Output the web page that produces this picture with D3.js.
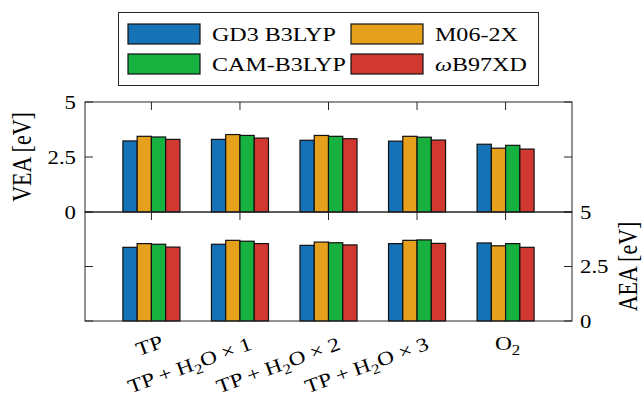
<!DOCTYPE html>
<html>
<head>
<meta charset="utf-8">
<script src="https://cdn.jsdelivr.net/npm/d3@7"></script>
<style>
  html, body { margin: 0; padding: 0; background: #fff; }
  svg { display: block; }
  text { font-family: "Liberation Serif", "Times New Roman", serif; fill: #000; }
</style>
</head>
<body>
<div id="chart"></div>
<script>
// categories, "_2" marks a subscript
var categories = ["TP", "TP + H_2O × 1", "TP + H_2O × 2", "TP + H_2O × 3", "O_2"];
var methods = ["GD3 B3LYP", "M06-2X", "CAM-B3LYP", "ωB97XD"];
var colors = ["#1672b6", "#e5a11c", "#16b13f", "#d1382f"];

// vertical electron affinity (top panel)
var veaGD3 = [3.23, 3.30, 3.26, 3.22, 3.08];
var veaM06 = [3.44, 3.52, 3.48, 3.44, 2.90];
var veaCAM = [3.41, 3.48, 3.44, 3.40, 3.03];
var veaWB  = [3.30, 3.36, 3.33, 3.27, 2.86];

// adiabatic electron affinity (bottom panel)
var aeaGD3 = [3.38, 3.52, 3.47, 3.55, 3.58];
var aeaM06 = [3.55, 3.70, 3.62, 3.70, 3.45];
var aeaCAM = [3.52, 3.66, 3.59, 3.72, 3.55];
var aeaWB  = [3.39, 3.55, 3.49, 3.56, 3.38];

var yTicks = [0, 2.5, 5];
var yTickLabels = ["0", "2.5", "5"];

var width = 644, height = 400;
var SX = 1.2; // the figure text is a little wide
var axisColor = "#262626";

var svg = d3.select("#chart").append("svg")
    .attr("width", width)
    .attr("height", height);

var x = d3.scaleLinear().domain([0.25, 5.75]).range([85, 572]);
var yTop = d3.scaleLinear().domain([0, 5]).range([212, 102]);
var yBot = d3.scaleLinear().domain([0, 5]).range([321, 212]);
var barW = 0.161;

// put a text with subscripts inside a stretched group
function label(parent, px, py, angle, anchor, size, str, sx, sy) {
  var g = parent.append("g")
      .attr("transform", "translate(" + px + "," + py + ") rotate(" + angle + ") scale(" + sx + "," + sy + ")");
  var t = g.append("text")
      .attr("text-anchor", anchor)
      .attr("font-size", size);
  var parts = str.split("_");
  t.append("tspan").text(parts[0]);
  for (var i = 1; i < parts.length; i++) {
    t.append("tspan").attr("font-size", size * 0.72).attr("dy", size * 0.25).text(parts[i].charAt(0));
    if (parts[i].length > 1)
      t.append("tspan").attr("dy", -size * 0.25).text(parts[i].slice(1));
  }
  return t;
}

function panel(yScale, series) {
  var g = svg.append("g");
  var rows = [];
  categories.forEach(function(c, ci) {
    series.forEach(function(s, si) {
      rows.push({ c: ci + 1, s: si, v: s[ci] });
    });
  });
  g.selectAll("rect.bar")
    .data(rows)
    .enter().append("rect")
      .attr("class", "bar")
      .attr("x", function(d) { return x(d.c + (d.s - 2) * barW); })
      .attr("width", function(d) { return x(barW) - x(0); })
      .attr("y", function(d) { return yScale(d.v); })
      .attr("height", function(d) { return yScale(0) - yScale(d.v); })
      .attr("fill", function(d) { return colors[d.s]; })
      .attr("stroke", "#111")
      .attr("stroke-width", 1.2);

  // frame
  var y0 = yScale(0), y1 = yScale(5);
  g.append("rect")
    .attr("x", x(0.25)).attr("y", y1)
    .attr("width", x(5.75) - x(0.25)).attr("height", y0 - y1)
    .attr("fill", "none").attr("stroke", axisColor).attr("stroke-width", 1);

  // x ticks from the top edge, pointing in
  g.selectAll("line.xt")
    .data(categories)
    .enter().append("line")
      .attr("x1", function(d, i) { return x(i + 1); })
      .attr("x2", function(d, i) { return x(i + 1); })
      .attr("y1", y1).attr("y2", y1 + 8)
      .attr("stroke", axisColor);

  // y ticks on both sides
  g.selectAll("line.yl")
    .data(yTicks)
    .enter().append("line")
      .attr("x1", x(0.25)).attr("x2", x(0.25) + 8)
      .attr("y1", function(d) { return yScale(d); })
      .attr("y2", function(d) { return yScale(d); })
      .attr("stroke", axisColor);
  g.selectAll("line.yr")
    .data(yTicks)
    .enter().append("line")
      .attr("x1", x(5.75) - 8).attr("x2", x(5.75))
      .attr("y1", function(d) { return yScale(d); })
      .attr("y2", function(d) { return yScale(d); })
      .attr("stroke", axisColor);
}

panel(yTop, [veaGD3, veaM06, veaCAM, veaWB]);
panel(yBot, [aeaGD3, aeaM06, aeaCAM, aeaWB]);

// tick labels
yTicks.forEach(function(t, i) {
  label(svg, 76, yTop(t) + 6.5, 0, "end", 19, yTickLabels[i], SX, 1);
  label(svg, 580, yBot(t) + 6.5, 0, "start", 19, yTickLabels[i], SX, 1);
});

// axis titles
label(svg, 31, yTop(2.5), -90, "middle", 22, "VEA [eV]", 1, SX);
label(svg, 637, yBot(2.5), -90, "middle", 22, "AEA [eV]", 1, SX);

// category labels
categories.forEach(function(c, i) {
  if (c.length > 3)
    label(svg, x(i + 1) + 13, 349, -20, "end", 19.5, c, 1.2, 1);
  else if (i === 0)
    label(svg, x(i + 1) + 13, 347, -20, "end", 19.5, c, 1.2, 1);
  else
    label(svg, x(i + 1) + 2, 350, 0, "middle", 19.5, c, 1.2, 1);
});

// legend
var leg = svg.append("g");
leg.append("rect")
  .attr("x", 118.5).attr("y", 12.5).attr("width", 420).attr("height", 73)
  .attr("fill", "#fff").attr("stroke", axisColor).attr("stroke-width", 1);
var legPos = [[128, 24], [351, 24], [128, 54], [351, 54]];
methods.forEach(function(m, i) {
  var p = legPos[i];
  leg.append("rect")
    .attr("x", p[0]).attr("y", p[1]).attr("width", 72).attr("height", 20)
    .attr("fill", colors[i]).attr("stroke", "#111").attr("stroke-width", 1.2);
  var t = label(leg, p[0] + 84, p[1] + 16.5, 0, "start", 18.5, "", 1.3, 1);
  t.selectAll("tspan").remove();
  if (m.charAt(0) === "ω") {
    t.append("tspan").attr("font-style", "italic").text("ω");
    t.append("tspan").text(m.slice(1));
  } else {
    t.append("tspan").text(m);
  }
});
</script>
</body>
</html>
